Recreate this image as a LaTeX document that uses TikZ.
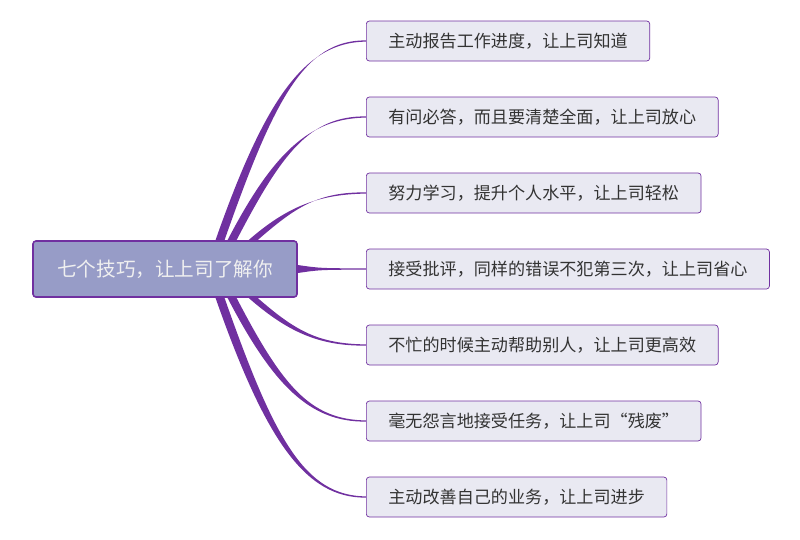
\documentclass[tikz,border=0pt]{standalone}
\usepackage{fontspec}
\usepackage{xcolor}
\usetikzlibrary{calc, backgrounds}
\newfontfamily\cjk{Noto Sans CJK SC}
\definecolor{plum}{HTML}{7030A0}
\definecolor{lilac}{HTML}{979CC7}
\definecolor{mist}{HTML}{E9E9F2}
\definecolor{ink}{HTML}{333333}

% tapered branch from a root point to the west side of a leaf box
\newcommand\twig[2]{%
  \fill[twig] let \p1=(#1), \p2=(#2), \n1={\x2-\x1}, \n2={\y2-\y1} in
    (\x1-4.5pt,\y1) .. controls (\x1+0.34*\n1-4.5pt,\y1+0.71*\n2) and (\x2-0.42*\n1,\y2-1.2pt) .. (\x2,\y2-0.6pt)
    -- (\x2,\y2+0.6pt) .. controls (\x2-0.42*\n1,\y2+1.2pt) and (\x1+0.34*\n1+4.5pt,\y1+0.71*\n2) .. (\x1+4.5pt,\y1) -- cycle;}

\begin{document}
\begin{tikzpicture}[x=1pt, y=-1pt,
    hub/.style={draw=plum, line width=1.6pt, fill=lilac, rounded corners=3pt,
                minimum width=264pt, minimum height=56pt, inner sep=0pt,
                text=white!94!black, font=\cjk\fontsize{19.6}{22}\selectfont},
    tip/.style={draw=plum, line width=0.7pt, fill=mist, rounded corners=3pt,
                minimum height=40pt, inner xsep=22pt, inner ysep=0pt, anchor=west,
                text=ink, font=\cjk\fontsize{17.1}{20}\selectfont},
    twig/.style={fill=plum}
  ]
  \useasboundingbox (0,0) rectangle (800,539);

  \node[hub] (hub) at (165,269) {七个技巧，让上司了解你};

  \node[tip] (tip1) at (366,41)  {主动报告工作进度，让上司知道};
  \node[tip] (tip2) at (366,117) {有问必答，而且要清楚全面，让上司放心};
  \node[tip] (tip3) at (366,193) {努力学习，提升个人水平，让上司轻松};
  \node[tip] (tip4) at (366,269) {接受批评，同样的错误不犯第三次，让上司省心};
  \node[tip] (tip5) at (366,345) {不忙的时候主动帮助别人，让上司更高效};
  \node[tip] (tip6) at (366,421) {毫无怨言地接受任务，让上司“残废”};
  \node[tip] (tip7) at (366,497) {主动改善自己的业务，让上司进步};

  \begin{scope}[on background layer]
    \twig{[xshift=55pt]hub.north}{tip1.west}
    \twig{[xshift=67pt]hub.north}{tip2.west}
    \twig{[xshift=88pt]hub.north}{tip3.west}
    \twig{[xshift=88pt]hub.south}{tip5.west}
    \twig{[xshift=67pt]hub.south}{tip6.west}
    \twig{[xshift=55pt]hub.south}{tip7.west}
    \fill[twig] ([yshift=4pt]hub.east) .. controls ([xshift=22pt,yshift=0.8pt]hub.east) .. ([yshift=0.6pt]tip4.west)
      -- ([yshift=-0.6pt]tip4.west) .. controls ([xshift=22pt,yshift=-0.8pt]hub.east) .. ([yshift=-4pt]hub.east) -- cycle;
  \end{scope}
\end{tikzpicture}
\end{document}
